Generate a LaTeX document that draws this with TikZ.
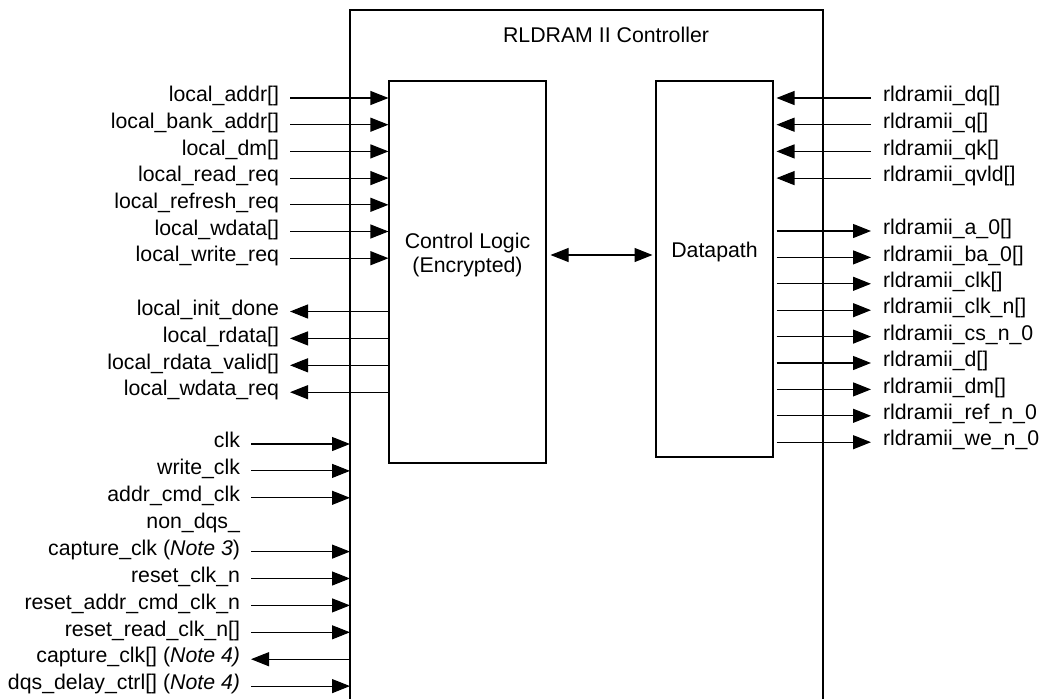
\documentclass[tikz,border=0pt]{standalone}
\usepackage{fontspec}
\setmainfont{Liberation Sans}
\usetikzlibrary{arrows.meta,calc}
\tikzstyle{blk}=[draw=black,line width=1.1pt,inner sep=0pt]
\tikzstyle{lsig}=[anchor=east,inner sep=0pt,outer xsep=11pt,
  text height=0.74em,text depth=0pt]
\tikzstyle{rsig}=[anchor=west,inner sep=0pt,outer xsep=12pt,
  text height=0.74em,text depth=0pt]
\tikzstyle{wire}=[line width=1.1pt]

\begin{document}
\begin{tikzpicture}[x=1pt, y=-1pt, >={Triangle[length=18pt,width=14pt]},
    every node/.style={font=\fontsize{21.3}{24.5}\selectfont}]
    \useasboundingbox (0,0) rectangle (1047,699);
    % controller frame, open at the bottom
    \coordinate (fl) at (350,699);
    \coordinate (fr) at (823,699);
    \draw [wire] (fl) |- (586,10) -| (fr);
    \node [inner sep=0pt,text height=0.74em,text depth=0pt] (title) at (606,39) {RLDRAM II Controller};
    \node [style=blk,minimum width=157pt,minimum height=382pt] (ctrl) at (467.5,272) {};
    \node [style=blk,minimum width=117pt,minimum height=376pt,outer xsep=3.5pt] (dp) at (714.5,269) {};
    \node [align=center] (ctrltxt) at (467.5,255) {Control Logic\\(Encrypted)};
    \node [inner sep=0pt,text height=0.74em,text depth=0pt] (dptxt) at (714.5,254) {Datapath};
    \draw [wire,<->,shorten <=4pt] (ctrl.east |- 0,255) to (dp.west |- 0,255);
    % local side
    \node [style=lsig] (la) at (290,98.0) {local\_addr[]};
    \node [style=lsig] (lba) at (290,124.7) {local\_bank\_addr[]};
    \node [style=lsig] (ldm) at (290,151.4) {local\_dm[]};
    \node [style=lsig] (lrr) at (290,178.1) {local\_read\_req};
    \node [style=lsig] (lfr) at (290,204.8) {local\_refresh\_req};
    \node [style=lsig] (lwd) at (290,231.5) {local\_wdata[]};
    \node [style=lsig] (lwr) at (290,258.2) {local\_write\_req};
    \node [style=lsig] (lid) at (290,311.5) {local\_init\_done};
    \node [style=lsig] (lrd) at (290,338.4) {local\_rdata[]};
    \node [style=lsig] (lrv) at (290,365.3) {local\_rdata\_valid[]};
    \node [style=lsig] (lwq) at (290,392.2) {local\_wdata\_req};
    \draw [wire,->] (la.east) to (ctrl.west |- la.east);
    \draw [wire,->] (lba.east) to (ctrl.west |- lba.east);
    \draw [wire,->] (ldm.east) to (ctrl.west |- ldm.east);
    \draw [wire,->] (lrr.east) to (ctrl.west |- lrr.east);
    \draw [wire,->] (lfr.east) to (ctrl.west |- lfr.east);
    \draw [wire,->] (lwd.east) to (ctrl.west |- lwd.east);
    \draw [wire,->] (lwr.east) to (ctrl.west |- lwr.east);
    \draw [wire,->] (ctrl.west |- lid.east) to (lid.east);
    \draw [wire,->] (ctrl.west |- lrd.east) to (lrd.east);
    \draw [wire,->] (ctrl.west |- lrv.east) to (lrv.east);
    \draw [wire,->] (ctrl.west |- lwq.east) to (lwq.east);
    % clocks and resets
    \node [style=lsig] (ck) at (251,444.0) {clk};
    \node [style=lsig] (wck) at (251,470.9) {write\_clk};
    \node [style=lsig] (ack) at (251,497.8) {addr\_cmd\_clk};
    \node [style=lsig] (ndq) at (251,524.7) {non\_dqs\_};
    \node [style=lsig] (cck) at (251,551.6) {capture\_clk (\textit{Note 3})};
    \node [style=lsig] (rck) at (251,578.5) {reset\_clk\_n};
    \node [style=lsig] (rack) at (251,605.4) {reset\_addr\_cmd\_clk\_n};
    \node [style=lsig] (rrck) at (251,632.3) {reset\_read\_clk\_n[]};
    \node [style=lsig] (capck) at (251,659.2) {capture\_clk[] (\textit{Note 4)}};
    \node [style=lsig] (dqs) at (251,686.1) {dqs\_delay\_ctrl[] (\textit{Note 4)}};
    \draw [wire,->] (ck.east) to (fl |- ck.east);
    \draw [wire,->] (wck.east) to (fl |- wck.east);
    \draw [wire,->] (ack.east) to (fl |- ack.east);
    \draw [wire,->] (cck.east) to (fl |- cck.east);
    \draw [wire,->] (rck.east) to (fl |- rck.east);
    \draw [wire,->] (rack.east) to (fl |- rack.east);
    \draw [wire,->] (rrck.east) to (fl |- rrck.east);
    \draw [wire,->] (fl |- capck.east) to (capck.east);
    \draw [wire,->] (dqs.east) to (fl |- dqs.east);
    % memory side
    \node [style=rsig] (rdq) at (871,98.0) {rldramii\_dq[]};
    \node [style=rsig] (rq) at (871,124.7) {rldramii\_q[]};
    \node [style=rsig] (rqk) at (871,151.4) {rldramii\_qk[]};
    \node [style=rsig] (rqv) at (871,178.1) {rldramii\_qvld[]};
    \node [style=rsig] (ra) at (871,231.0) {rldramii\_a\_0[]};
    \node [style=rsig] (rba) at (871,257.4) {rldramii\_ba\_0[]};
    \node [style=rsig] (rck) at (871,283.8) {rldramii\_clk[]};
    \node [style=rsig] (rckn) at (871,310.2) {rldramii\_clk\_n[]};
    \node [style=rsig] (rcs) at (871,336.6) {rldramii\_cs\_n\_0};
    \node [style=rsig] (rd) at (871,363.0) {rldramii\_d[]};
    \node [style=rsig] (rdm) at (871,389.4) {rldramii\_dm[]};
    \node [style=rsig] (rref) at (871,415.8) {rldramii\_ref\_n\_0};
    \node [style=rsig] (rwe) at (871,442.2) {rldramii\_we\_n\_0};
    \draw [wire,->] (rdq.west) to (dp.east |- rdq.west);
    \draw [wire,->] (rq.west) to (dp.east |- rq.west);
    \draw [wire,->] (rqk.west) to (dp.east |- rqk.west);
    \draw [wire,->] (rqv.west) to (dp.east |- rqv.west);
    \draw [wire,->] (dp.east |- ra.west) to (ra.west);
    \draw [wire,->] (dp.east |- rba.west) to (rba.west);
    \draw [wire,->] (dp.east |- rck.west) to (rck.west);
    \draw [wire,->] (dp.east |- rckn.west) to (rckn.west);
    \draw [wire,->] (dp.east |- rcs.west) to (rcs.west);
    \draw [wire,->] (dp.east |- rd.west) to (rd.west);
    \draw [wire,->] (dp.east |- rdm.west) to (rdm.west);
    \draw [wire,->] (dp.east |- rref.west) to (rref.west);
    \draw [wire,->] (dp.east |- rwe.west) to (rwe.west);
\end{tikzpicture}
\end{document}
